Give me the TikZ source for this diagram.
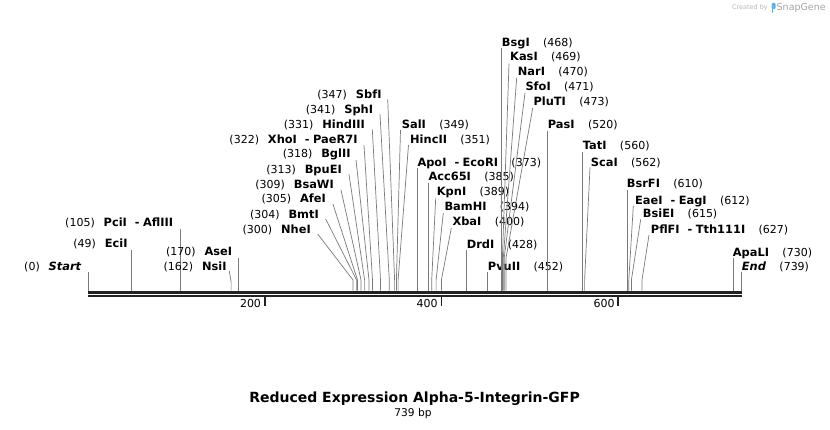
\documentclass[tikz,border=0pt]{standalone}
\usepackage{fontspec}
\setmainfont{DejaVu Sans}
\definecolor{connc}{HTML}{7A7A7A}
\definecolor{barc}{HTML}{222222}
\definecolor{wmc}{HTML}{B8B8B8}
\definecolor{logoc}{HTML}{5BB4E5}
\newcommand\enzdash{\hspace{0.7em}-\hspace{0.3em}}
% left label: id, sitex, name, num, text right x, center y, start x, start y, elbow y
\newcommand\LLab[9]{%
  \node[enz,anchor=base east] (#1) at (#5,#6+4.1) {#3};
  \node[num,anchor=base east] (#1n) at ([xshift=-8.5pt]#1.base west) {(#4)};
  \coordinate (#1s) at (#7,#8);
  \coordinate (#1e) at (#2,#9);
  \coordinate (#1b) at (#2,290.7);
  \draw[conn] (#1s) -- (#1e) -- (#1b);
}
% right label: id, sitex, name, num, text left x, center y, start x, start y, elbow y
\newcommand\RLab[9]{%
  \node[enz,anchor=base west] (#1) at (#5,#6+4.1) {#3};
  \node[num,anchor=base west] (#1n) at ([xshift=13pt]#1.base east) {(#4)};
  \coordinate (#1s) at (#7,#8);
  \coordinate (#1e) at (#2,#9);
  \coordinate (#1b) at (#2,290.7);
  \draw[conn] (#1s) -- (#1e) -- (#1b);
}
\begin{document}
\begin{tikzpicture}[x=1pt,y=-1pt,
  enz/.style={inner sep=0pt,font=\fontsize{11.4}{13}\selectfont\bfseries,text=black},
  num/.style={inner sep=0pt,font=\fontsize{11}{13}\selectfont,text=black},
  conn/.style={draw=connc,line width=0.7pt},
  topbar/.style={draw=barc,line width=3pt},
  botbar/.style={draw=barc,line width=2pt},
  tick/.style={draw=barc,line width=1.6pt},
  ticklab/.style={inner sep=0pt,font=\fontsize{11}{13}\selectfont,text=black},
  title/.style={inner sep=0pt,font=\fontsize{14}{16}\selectfont\bfseries,text=black},
  sub/.style={inner sep=0pt,font=\fontsize{10.67}{12}\selectfont,text=black}]
\useasboundingbox (0,0) rectangle (830,430);
\fill[white] (0,0) rectangle (830,430);

% watermark
\node[inner sep=0pt,anchor=east,font=\fontsize{6.5}{7}\selectfont,text=wmc] (wm1) at (768,8) {Created by};
\fill[logoc,rounded corners=1pt] (771.5,3) rectangle (775.5,9);
\fill[logoc] (771.5,8) rectangle (773.3,13.5);
\node[inner sep=0pt,anchor=west,font=\fontsize{9.5}{10}\selectfont,text=wmc!90!black] (wm2) at (776.5,8) {SnapGene};

% backbone
\coordinate (barL) at (88,292.2);
\coordinate (barR) at (741.8,292.2);
\coordinate (bbL) at (88,296.4);
\coordinate (bbR) at (741.8,296.4);
\draw[topbar] (barL) -- (barR);
\draw[botbar] (bbL) -- (bbR);

% ticks
\foreach \v/\xx in {200/264.7,400/441.4,600/618.2}{
  \coordinate (t\v a) at (\xx,297);
  \coordinate (t\v b) at (\xx,306.5);
  \draw[tick] (t\v a) -- (t\v b);
  \node[ticklab,anchor=base east] (tl\v) at (\xx-3.5,308) {\v};
}

% left labels
\LLab{start}{88.3}{\textit{Start}}{0}{81.7}{266.7}{88.3}{271.7}{271.7}
\LLab{eci}{131.3}{EciI}{49}{127.7}{243.3}{131.3}{250}{250}
\LLab{pci}{180.8}{PciI\enzdash AflIII}{105}{173.3}{222.3}{180.8}{229}{229}
\LLab{ase}{238.2}{AseI}{170}{232.3}{251.7}{238.2}{258.3}{258.3}
\LLab{nsi}{231.1}{NsiI}{162}{226.7}{266.7}{229.3}{271}{282}
\LLab{nhe}{353}{NheI}{300}{311}{229}{317.7}{234}{280}
\LLab{bmt}{356.6}{BmtI}{304}{319}{214.3}{325.7}{219}{280}
\LLab{afe}{357.5}{AfeI}{305}{326}{198.3}{333}{204.3}{280}
\LLab{bsaw}{361}{BsaWI}{309}{334}{184}{341}{190}{280}
\LLab{bpue}{364.6}{BpuEI}{313}{342}{169}{349}{174.3}{280}
\LLab{bgl}{369}{BglII}{318}{350.7}{153.3}{356}{160}{280}
\LLab{xho}{372.5}{XhoI\enzdash PaeR7I}{322}{357.7}{139.3}{364}{145}{280}
\LLab{hind}{380.5}{HindIII}{331}{365}{124}{372.3}{129.3}{280}
\LLab{sph}{389.3}{SphI}{341}{373.3}{109.3}{380}{114.3}{280}
\LLab{sbf}{394.6}{SbfI}{347}{381.7}{94}{387.7}{99.3}{280}

% right labels
\RLab{sal}{396.4}{SalI}{349}{401.7}{124.3}{400.5}{130}{280}
\RLab{hinc}{398.1}{HincII}{351}{410}{139}{408.5}{145}{280}
\RLab{apo}{417.6}{ApoI\enzdash EcoRI}{373}{417.3}{162.3}{417.6}{168}{168}
\RLab{acc}{428.2}{Acc65I}{385}{428.3}{176.7}{428.2}{183}{183}
\RLab{kpn}{431.7}{KpnI}{389}{436.7}{191.7}{435.7}{198.3}{280}
\RLab{bam}{436.1}{BamHI}{394}{444.3}{206.7}{443.3}{213}{280}
\RLab{xba}{441.4}{XbaI}{400}{452.3}{221.7}{451.3}{228}{280}
\RLab{drd}{466.2}{DrdI}{428}{466.7}{244.3}{466.2}{250}{250}
\RLab{pvu}{487.4}{PvuII}{452}{487.7}{266.7}{487.4}{272.3}{272.3}
\RLab{bsg}{501.5}{BsgI}{468}{501.7}{42.3}{501.5}{48.3}{48.3}
\RLab{kas}{502.4}{KasI}{469}{510}{56.7}{509}{63.3}{258}
\RLab{nar}{503.3}{NarI}{470}{517.7}{71.7}{516.7}{77.7}{258}
\RLab{sfo}{504.2}{SfoI}{471}{525.3}{86.7}{525}{93}{258}
\RLab{plu}{506}{PluTI}{473}{533.3}{101.7}{532.7}{108}{258}
\RLab{pas}{547.5}{PasI}{520}{547.7}{124.3}{547.5}{131}{131}
\RLab{tat}{582.8}{TatI}{560}{582.7}{145.7}{582.8}{152}{152}
\RLab{sca}{584.6}{ScaI}{562}{590.7}{162.3}{590}{167.5}{280}
\RLab{bsrf}{627}{BsrFI}{610}{626.7}{183.3}{627}{190}{190}
\RLab{eae}{628.8}{EaeI\enzdash EagI}{612}{635}{200}{633.3}{206}{280}
\RLab{bsie}{631.4}{BsiEI}{615}{642.7}{213.3}{640.7}{219.3}{280}
\RLab{pflf}{642}{PflFI\enzdash Tth111I}{627}{650.7}{229.3}{649}{235}{280}
\RLab{apal}{733}{ApaLI}{730}{732.7}{252.7}{733}{258.3}{258.3}
\RLab{end}{741}{\textit{End}}{739}{741.7}{266.7}{741}{272}{272}

% title
\node[title] (ttl) at (414.5,399) {Reduced Expression Alpha-5-Integrin-GFP};
\node[sub] (len) at (413,413.5) {739 bp};
\end{tikzpicture}
\end{document}
